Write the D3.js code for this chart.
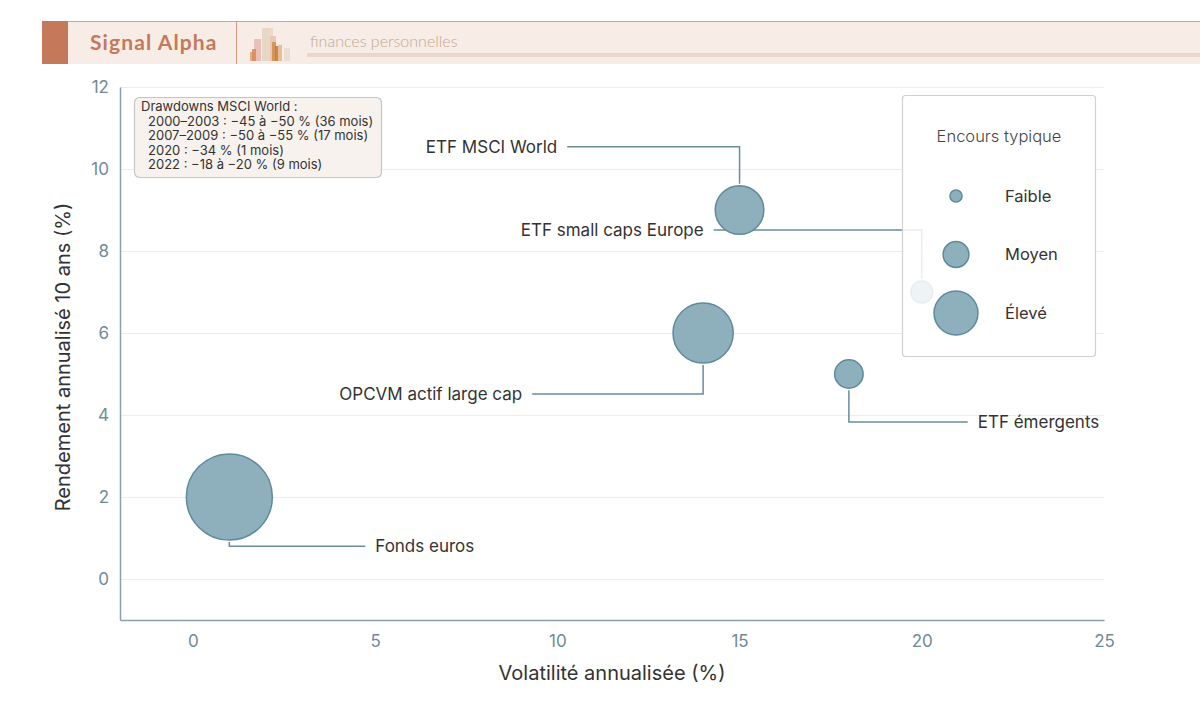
<!DOCTYPE html>
<html>
<head>
<meta charset="utf-8">
<script src="https://cdn.jsdelivr.net/npm/d3@7.9.0/dist/d3.min.js"></script>
<style>
  body { margin: 0; background: #fff; }
  svg { display: block; font-family: Inter, "Noto Sans", sans-serif; }
</style>
</head>
<body>
<svg id="chart" width="1200" height="721"></svg>
<script>
// data
const names = ['Fonds euros', 'OPCVM actif large cap', 'ETF MSCI World', 'ETF émergents', 'ETF small caps Europe'];
const volatility = [1, 14, 15, 18, 20];
const returns10y = [2, 6, 9, 5, 7];
const encours = [100, 49, 32, 11, 6.5];
// label anchors, in data units
const labelX = [4.73, 9.31, 10.27, 21.26, 14.29];
const labelY = [0.8, 4.51, 10.54, 3.83, 8.51];
const labelSide = ['right', 'left', 'left', 'right', 'left'];

const legendLabels = ['Faible', 'Moyen', 'Élevé'];
const legendValues = [2, 9, 26];

const xTicks = [0, 5, 10, 15, 20, 25];
const yTicks = [0, 2, 4, 6, 8, 10, 12];

const drawdowns = [
  'Drawdowns MSCI World :',
  '2000–2003 : −45 à −50 % (36 mois)',
  '2007–2009 : −50 à −55 % (17 mois)',
  '2020 : −34 % (1 mois)',
  '2022 : −18 à −20 % (9 mois)'
];

const svg = d3.select('#chart');

// header band
const header = svg.append('g');
header.append('rect').attr('x', 42).attr('y', 21).attr('width', 1158).attr('height', 43).attr('fill', '#f7ece6');
header.append('line').attr('x1', 42).attr('x2', 1200).attr('y1', 21.5).attr('y2', 21.5).attr('stroke', '#dc9e84').attr('stroke-width', 1);
header.append('rect').attr('x', 42).attr('y', 21).attr('width', 26).attr('height', 43).attr('fill', '#c4795a');
header.append('line').attr('x1', 236.5).attr('x2', 236.5).attr('y1', 21).attr('y2', 64).attr('stroke', '#d99a80');
header.append('text').attr('x', 90).attr('y', 50).text('Signal Alpha')
  .attr('font-family', 'Lato, sans-serif').attr('font-weight', 700).attr('font-size', 21)
  .attr('fill', '#c4795a').attr('letter-spacing', 1.1);
header.append('text').attr('x', 310).attr('y', 47).text('finances personnelles')
  .attr('font-family', 'Lato, sans-serif').attr('font-weight', 300).attr('font-size', 16).attr('fill', '#c4a892');
header.append('rect').attr('x', 307).attr('y', 53).attr('width', 893).attr('height', 4).attr('fill', '#e8d8cb');

// little bar logo
const logo = [
  [250, 52, 6, 9, '#e2a36e'], [254, 39, 7, 22, '#e8b8b0'], [252, 49, 4, 12, '#d98a5a'],
  [262, 28, 7, 33, '#e4d3c0'], [268, 28, 5, 33, '#ead6c2'], [270, 36, 6, 25, '#e8c3b5'],
  [272, 42, 4, 19, '#d08d45'], [275, 46, 3, 15, '#c8782a'], [278, 45, 4, 16, '#e6b58a'],
  [284, 48, 6, 13, '#e6dccf']
];
header.selectAll('rect.logo').data(logo).join('rect').attr('class', 'logo')
  .attr('x', d => d[0]).attr('y', d => d[1]).attr('width', d => d[2]).attr('height', d => d[3])
  .attr('fill', d => d[4]).attr('opacity', 0.85);

// scales
const x = d3.scaleLinear().domain([-2, 25]).range([120, 1104]);
const y = d3.scaleLinear().domain([-1, 12]).range([620, 87]);
const r = d3.scaleSqrt().domain([0, 100]).range([0, 43]);

// grid
svg.append('g').selectAll('line').data(yTicks).join('line')
  .attr('x1', 120).attr('x2', 1104)
  .attr('y1', d => y(d) + 0.5).attr('y2', d => y(d) + 0.5)
  .attr('stroke', '#e9edef').attr('stroke-width', 1);

// axes
const xAxis = svg.append('g').attr('transform', 'translate(0,620)')
  .call(d3.axisBottom(x).tickValues(xTicks).tickSize(0).tickPadding(12));
const yAxis = svg.append('g').attr('transform', 'translate(120,0)')
  .call(d3.axisLeft(y).tickValues(yTicks).tickSize(0).tickPadding(11));
[xAxis, yAxis].forEach(a => {
  a.select('.domain').attr('stroke', '#8aa0ad').attr('stroke-width', 1.5);
  a.selectAll('text').attr('fill', '#6f8a9b').attr('font-size', 17).attr('font-family', 'Inter, sans-serif');
});
xAxis.selectAll('text').attr('dy', '0.9em');

svg.append('text').attr('x', 612).attr('y', 680).attr('text-anchor', 'middle')
  .attr('font-size', 20).attr('fill', '#333').text('Volatilité annualisée (%)');
svg.append('text').attr('transform', 'translate(70,357) rotate(-90)').attr('text-anchor', 'middle')
  .attr('font-size', 20).attr('fill', '#333').text('Rendement annualisé 10 ans (%)');

// points
const pts = names.map((n, i) => ({
  name: n, vx: volatility[i], vy: returns10y[i], v: encours[i],
  lx: labelX[i], ly: labelY[i], side: labelSide[i]
}));

const lineColor = '#6a8c9c';

// leader lines (elbow: vertical from bubble, then horizontal to label)
svg.append('g').selectAll('path').data(pts).join('path')
  .attr('fill', 'none').attr('stroke', lineColor).attr('stroke-width', 1.5)
  .attr('d', d => {
    const cx = x(d.vx), cy = y(d.vy), rr = r(d.v);
    const ly = y(d.ly);
    const sy = ly < cy ? cy - rr - 2 : cy + rr + 2;
    return `M${cx},${sy}V${ly}H${x(d.lx)}`;
  });

svg.append('g').selectAll('circle').data(pts).join('circle')
  .attr('cx', d => x(d.vx)).attr('cy', d => y(d.vy)).attr('r', d => r(d.v))
  .attr('fill', '#8eb0bc').attr('stroke', '#5e8a9c').attr('stroke-width', 1.5);

svg.append('g').selectAll('text').data(pts).join('text')
  .attr('x', d => x(d.lx) + (d.side === 'right' ? 10 : -10))
  .attr('y', d => y(d.ly))
  .attr('dy', '0.35em')
  .attr('text-anchor', d => d.side === 'right' ? 'start' : 'end')
  .attr('font-size', 17).attr('fill', '#333')
  .text(d => d.name);

// drawdown note
const note = svg.append('g');
note.append('rect').attr('x', 134.5).attr('y', 97.5).attr('width', 247).attr('height', 80).attr('rx', 5)
  .attr('fill', '#f8f1ed').attr('fill-opacity', 0.95).attr('stroke', '#c3c5c7').attr('stroke-width', 1.2);
note.selectAll('text').data(drawdowns).join('text')
  .attr('x', (d, i) => i === 0 ? 141 : 148)
  .attr('y', (d, i) => 111 + i * 14.5)
  .attr('font-size', 13).attr('fill', '#333')
  .text(d => d);

// legend
const lg = svg.append('g');
lg.append('rect').attr('x', 902.5).attr('y', 95.5).attr('width', 193).attr('height', 261).attr('rx', 3)
  .attr('fill', '#fff').attr('fill-opacity', 0.85).attr('stroke', '#cdd1d5').attr('stroke-width', 1.2);
lg.append('text').attr('x', 999).attr('y', 142).attr('text-anchor', 'middle')
  .attr('font-size', 16.5).attr('font-weight', 300).attr('fill', '#444').text('Encours typique');
const items = lg.selectAll('g.item').data(legendLabels).join('g').attr('class', 'item')
  .attr('transform', (d, i) => `translate(956,${196 + i * 58.5})`);
items.append('circle').attr('r', (d, i) => r(legendValues[i]))
  .attr('fill', '#8eb0bc').attr('stroke', '#5e8a9c').attr('stroke-width', 1.5);
items.append('text').attr('x', 49).attr('dy', '0.35em').attr('font-size', 16.5).attr('fill', '#333').text(d => d);
</script>
</body>
</html>
